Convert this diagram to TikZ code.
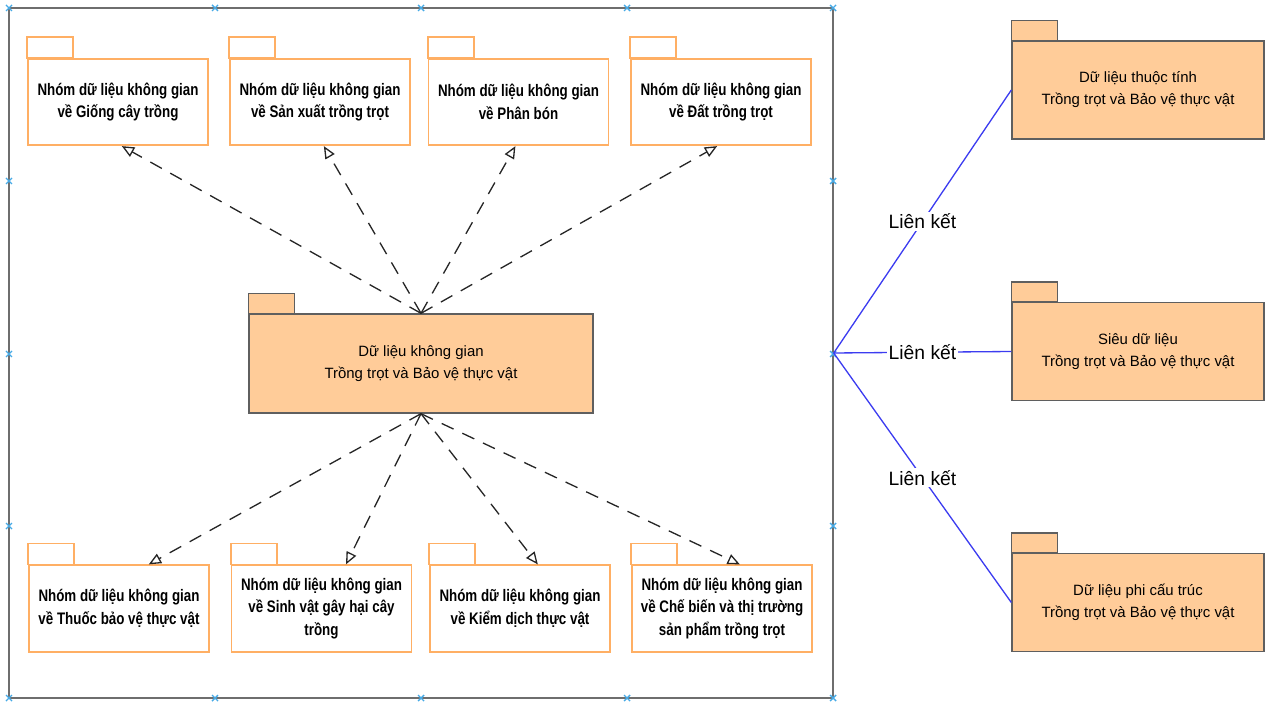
\documentclass[tikz,border=0pt]{standalone}
\usepackage{fontspec}
\setmainfont{Liberation Sans}
\newfontfamily\narrowfont[FakeStretch=0.8]{Liberation Sans}
\usetikzlibrary{positioning,arrows.meta}

\definecolor{pkgfill}{RGB}{255,204,153}
\definecolor{pkgline}{RGB}{95,95,95}
\definecolor{grpline}{RGB}{255,175,100}
\definecolor{frameline}{RGB}{110,110,110}
\definecolor{linkblue}{RGB}{60,60,240}
\definecolor{handlecol}{RGB}{70,170,230}

\begin{document}
\begin{tikzpicture}[x=0.02cm, y=-0.02cm,
        grp/.style={draw=grpline, line width=1pt, fill=white, minimum width=3.6cm, minimum height=1.73cm,
            align=center, inner sep=1pt, font=\narrowfont\bfseries\fontsize{9.5}{12.8}\selectfont},
        grptab/.style={draw=grpline, line width=1pt, fill=white},
        pkg/.style={draw=pkgline, line width=0.8pt, fill=pkgfill, align=center,
            font=\fontsize{8.5}{12.5}\selectfont},
        pkgtab/.style={draw=pkgline, line width=0.8pt, fill=pkgfill},
        dep/.style={dash pattern=on 7.5pt off 5.5pt, line width=0.75pt, black!85, -{Triangle[open, length=7pt, width=6pt]}},
        link/.style={draw=linkblue, line width=0.75pt},
        lbl/.style={fill=white, inner sep=1pt, font=\fontsize{11}{13}\selectfont},
        frm/.style={draw=frameline, line width=0.9pt, minimum width=16.48cm, minimum height=13.8cm},
        handle/.style={draw=handlecol, line width=0.8pt}]
    \useasboundingbox (0,0) rectangle (1271,702);

    \node[frm] (frame) at (421,353) {};
    \foreach \hx/\hy in {9/8, 215/8, 421/8, 627/8, 833/8, 9/181, 833/181, 9/354, 833/354,
                        9/526, 833/526, 9/698, 215/698, 421/698, 627/698, 833/698}
        \draw[handle] (\hx-3,\hy-3) -- (\hx+3,\hy+3) (\hx-3,\hy+3) -- (\hx+3,\hy-3);

    \node[grp] (g1) at (118,102) {Nhóm dữ liệu không gian\\về Giống cây trồng};
    \node[grp] (g2) at (320,102) {Nhóm dữ liệu không gian\\về Sản xuất trồng trọt};
    \node[grp] (g3) at (518.5,102) {Nhóm dữ liệu không gian\\về Phân bón};
    \node[grp] (g4) at (721,102) {Nhóm dữ liệu không gian\\về Đất trồng trọt};

    \node[grp] (b1) at (119,608.5) {Nhóm dữ liệu không gian\\về Thuốc bảo vệ thực vật};
    \node[grp] (b2) at (321.5,608.5) {Nhóm dữ liệu không gian\\về Sinh vật gây hại cây\\trồng};
    \node[grp] (b3) at (520,608.5) {Nhóm dữ liệu không gian\\về Kiểm dịch thực vật};
    \node[grp] (b4) at (722,608.5) {Nhóm dữ liệu không gian\\về Chế biến và thị trường\\sản phẩm trồng trọt};

    \foreach \n in {g1,g2,g3,g4,b1,b2,b3,b4}
        \draw[grptab] (\n.north west) rectangle ++(46,-21);

    \node[pkg, minimum width=6.88cm, minimum height=1.98cm] (core) at (421,363.5)
        {Dữ liệu không gian\\Trồng trọt và Bảo vệ thực vật};

    \node[pkg, minimum width=5.04cm, minimum height=1.96cm] (attr) at (1138,90)
        {Dữ liệu thuộc tính\\Trồng trọt và Bảo vệ thực vật};
    \node[pkg, minimum width=5.04cm, minimum height=1.96cm] (meta) at (1138,351.5)
        {Siêu dữ liệu\\Trồng trọt và Bảo vệ thực vật};
    \node[pkg, minimum width=5.04cm, minimum height=1.96cm] (unstr) at (1138,602.5)
        {Dữ liệu phi cấu trúc\\Trồng trọt và Bảo vệ thực vật};

    \foreach \n in {core,attr,meta,unstr}
        \draw[pkgtab] (\n.north west) rectangle ++(46,-20);

    \draw[dep] (core.north) -- (g1.-85);
    \draw[dep] (core.north) -- (g2.-85);
    \draw[dep] (core.north) -- (g3.-94);
    \draw[dep] (core.north) -- (g4.-95);
    \draw[dep] (core.south) -- (b1.56);
    \draw[dep] (core.south) -- (b2.61);
    \draw[dep] (core.south) -- (b3.68);
    \draw[dep] (core.south) -- (b4.68);

    \draw[link] (frame.east) -- node[lbl] {Liên kết} (attr.west);
    \draw[link] (frame.east) -- node[lbl] {Liên kết} (meta.west);
    \draw[link] (frame.east) -- node[lbl] {Liên kết} (unstr.west);
\end{tikzpicture}
\end{document}
